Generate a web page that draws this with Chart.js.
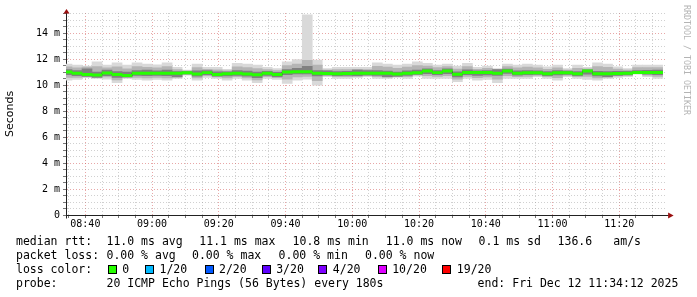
<!DOCTYPE html>
<html lang="en">
<head>
  <meta charset="UTF-8">
  <title>SmokePing median rtt</title>
  <script src="https://cdn.jsdelivr.net/npm/chart.js"></script>
  <style>
    html, body { margin: 0; padding: 0; background: #fff; }
    #wrap { position: relative; width: 697px; height: 297px; overflow: hidden; }
    #chart { position: absolute; left: 0; top: 0; }
    .t { position: absolute; font-family: "DejaVu Sans Mono", monospace; font-size: 11.5px;
         line-height: 14px; color: #000; white-space: pre; }
    .sq { position: absolute; width: 9px; height: 9px; box-sizing: border-box; border: 1px solid #000; }
    #mark { position: absolute; left: 682px; top: 5px; writing-mode: vertical-rl;
            font-family: "DejaVu Sans Mono", monospace; font-size: 8.3px; color: #b4b4b4; white-space: pre; }
  </style>
</head>
<body>
<div id="wrap">
  <canvas id="chart" width="697" height="297"></canvas>
  <div id="mark">RRDTOOL / TOBI OETIKER</div>
  <div id="legend"></div>
</div>

<script>
  // 3-minute slots, first one starts 08:33 (minutes after midnight)
  const slotStart = 513;
  const slotLen = 3;
  const axisStart = 514.2;   // 08:34:12
  const axisEnd = 694.2;     // 11:34:12

  const timeLabels = ['08:40', '09:00', '09:20', '09:40', '10:00', '10:20', '10:40', '11:00', '11:20'];
  const yLabels = ['0', '2 m', '4 m', '6 m', '8 m', '10 m', '12 m', '14 m'];

  // median rtt (ms)
  const median = [11.00, 10.91, 10.81, 10.77, 10.94, 10.81, 10.73, 10.91, 10.91, 10.91,
                  10.91, 10.92, 10.95, 10.86, 10.96, 10.81, 10.88, 10.92, 10.86, 10.79,
                  10.92, 10.81, 11.00, 11.03, 11.03, 10.92, 10.90, 10.88, 10.90, 10.92,
                  10.92, 10.92, 10.92, 10.86, 10.92, 10.95, 11.08, 10.96, 11.08, 10.83,
                  10.97, 10.97, 10.97, 10.92, 11.08, 10.91, 10.95, 10.95, 10.88, 10.95,
                  10.95, 10.88, 11.08, 10.88, 10.88, 10.90, 10.92, 10.97, 10.97, 10.97];
  // smoke: outer (lightest), middle, core (darkest)
  const smokeMax = [11.62, 11.54, 11.46, 11.79, 11.54, 11.72, 11.54, 11.72, 11.62, 11.56,
                    11.72, 11.36, 11.15, 11.62, 11.36, 11.36, 11.21, 11.67, 11.62, 11.54,
                    11.36, 11.28, 11.79, 11.97, 15.40, 11.92, 11.28, 11.36, 11.36, 11.36,
                    11.36, 11.72, 11.62, 11.54, 11.62, 11.79, 11.67, 11.54, 11.62, 11.46,
                    11.67, 11.36, 11.46, 11.28, 11.62, 11.54, 11.62, 11.54, 11.41, 11.54,
                    11.28, 11.54, 11.36, 11.72, 11.62, 11.41, 11.28, 11.54, 11.54, 11.54];
  const smokeMin = [10.38, 10.44, 10.59, 10.51, 10.46, 10.18, 10.51, 10.44, 10.38, 10.44,
                    10.38, 10.51, 10.77, 10.38, 10.59, 10.51, 10.38, 10.51, 10.38, 10.18,
                    10.51, 10.44, 10.13, 10.38, 10.45, 10.00, 10.64, 10.51, 10.51, 10.59,
                    10.64, 10.51, 10.51, 10.59, 10.51, 10.69, 10.51, 10.51, 10.51, 10.26,
                    10.51, 10.38, 10.44, 10.18, 10.51, 10.51, 10.51, 10.64, 10.51, 10.38,
                    10.64, 10.51, 10.44, 10.38, 10.51, 10.59, 10.64, 10.85, 10.64, 10.51];
  const midHi = [11.40, 11.32, 11.38, 11.42, 11.33, 11.40, 11.25, 11.43, 11.37, 11.33,
                 11.43, 11.20, 11.10, 11.35, 11.22, 11.17, 11.10, 11.40, 11.35, 11.28,
                 11.20, 11.12, 11.50, 11.62, 11.90, 11.55, 11.15, 11.20, 11.20, 11.22,
                 11.20, 11.44, 11.38, 11.30, 11.38, 11.50, 11.46, 11.34, 11.43, 11.24,
                 11.42, 11.22, 11.29, 11.22, 11.43, 11.32, 11.38, 11.33, 11.22, 11.33,
                 11.16, 11.30, 11.26, 11.42, 11.36, 11.23, 11.16, 11.34, 11.34, 11.34];
  const midLo = [10.60, 10.60, 10.62, 10.60, 10.63, 10.40, 10.58, 10.60, 10.56, 10.60,
                 10.56, 10.62, 10.82, 10.55, 10.72, 10.62, 10.55, 10.65, 10.55, 10.40,
                 10.65, 10.57, 10.45, 10.62, 10.66, 10.35, 10.72, 10.64, 10.65, 10.70,
                 10.74, 10.65, 10.65, 10.68, 10.65, 10.78, 10.72, 10.67, 10.72, 10.46,
                 10.67, 10.58, 10.62, 10.45, 10.72, 10.65, 10.66, 10.75, 10.64, 10.58,
                 10.75, 10.64, 10.66, 10.55, 10.64, 10.70, 10.74, 10.89, 10.76, 10.67];
  const coreHi = [11.20, 11.12, 11.25, 11.00, 11.15, 11.05, 11.00, 11.12, 11.15, 11.10,
                  11.15, 11.05, 11.05, 11.10, 11.12, 11.02, 11.02, 11.12, 11.08, 11.00,
                  11.06, 10.98, 11.20, 11.30, 11.45, 11.12, 11.10, 11.04, 11.06, 11.15,
                  11.12, 11.12, 11.08, 11.00, 11.10, 11.15, 11.25, 11.12, 11.25, 11.02,
                  11.18, 11.10, 11.12, 11.20, 11.24, 11.10, 11.12, 11.10, 11.04, 11.12,
                  11.08, 11.04, 11.18, 11.06, 11.04, 11.06, 11.06, 11.12, 11.14, 11.16];
  const coreLo = [10.80, 10.72, 10.66, 10.60, 10.72, 10.60, 10.62, 10.75, 10.72, 10.75,
                  10.72, 10.62, 10.86, 10.68, 10.80, 10.68, 10.70, 10.75, 10.68, 10.58,
                  10.75, 10.65, 10.80, 10.86, 10.86, 10.70, 10.78, 10.72, 10.74, 10.70,
                  10.76, 10.75, 10.62, 10.66, 10.75, 10.82, 10.88, 10.80, 10.88, 10.62,
                  10.80, 10.75, 10.78, 10.75, 10.90, 10.76, 10.80, 10.82, 10.72, 10.78,
                  10.82, 10.72, 10.85, 10.70, 10.62, 10.74, 10.78, 10.91, 10.84, 10.80];

  const lossLabels = ['0', '1/20', '2/20', '3/20', '4/20', '10/20', '19/20'];
  const lossColors = ['#26ff00', '#00b8ff', '#0059ff', '#5e00ff', '#7e00ff', '#dd00ff', '#ff0000'];

  const centers = median.map((_, i) => slotStart + slotLen * i + slotLen / 2);
  const band = (lo, hi) => centers.map((x, i) => ({ x: x, y: [lo[i], hi[i]] }));
  const bandW = 0.09;

  function hhmm(v) {
    const h = Math.floor(v / 60), m = Math.round(v % 60);
    return String(h).padStart(2, '0') + ':' + String(m).padStart(2, '0');
  }

  const gridMinor = 'rgba(150,150,150,0.45)';
  const gridMajor = 'rgba(210,80,80,0.5)';

  const barBase = { type: 'bar', barPercentage: 1, categoryPercentage: 1, grouped: false, borderWidth: 0 };

  const axisArrows = {
    id: 'axisArrows',
    afterDraw(chart) {
      const a = chart.chartArea, ctx = chart.ctx;
      const lx = Math.round(a.left) + 0.5, by = Math.round(a.bottom) + 0.5;
      ctx.save();
      ctx.strokeStyle = '#222';
      ctx.lineWidth = 1;
      ctx.beginPath();
      ctx.moveTo(a.right, by); ctx.lineTo(a.right + 2, by);
      ctx.moveTo(lx, by); ctx.lineTo(lx, by + 3);
      ctx.stroke();
      ctx.fillStyle = '#9a0f0f';
      ctx.beginPath();
      ctx.moveTo(lx - 3, a.top + 0.5); ctx.lineTo(lx + 3, a.top + 0.5); ctx.lineTo(lx, a.top - 4);
      ctx.closePath(); ctx.fill();
      ctx.beginPath();
      ctx.moveTo(a.right + 1.5, by - 3); ctx.lineTo(a.right + 1.5, by + 3); ctx.lineTo(a.right + 7, by);
      ctx.closePath(); ctx.fill();
      ctx.restore();
    }
  };

  Chart.defaults.font.family = '"DejaVu Sans Mono", monospace';
  Chart.defaults.color = '#000';

  new Chart(document.getElementById('chart'), {
    type: 'bar',
    data: {
      datasets: [
        Object.assign({}, barBase, { label: 'loss 0', order: 0, backgroundColor: lossColors[0],
          data: centers.map((x, i) => ({ x: x, y: [median[i] - bandW, median[i] + bandW] })) }),
        { type: 'line', label: 'median', order: 1, stepped: 'middle', borderColor: '#202020',
          borderWidth: 1, pointRadius: 0, data: centers.map((x, i) => ({ x: x, y: median[i] })) },
        Object.assign({}, barBase, { label: 'core', order: 2, backgroundColor: '#808080', data: band(coreLo, coreHi) }),
        Object.assign({}, barBase, { label: 'mid', order: 3, backgroundColor: '#b5b5b5', data: band(midLo, midHi) }),
        Object.assign({}, barBase, { label: 'outer', order: 4, backgroundColor: '#d9d9d9', data: band(smokeMin, smokeMax) })
      ]
    },
    options: {
      responsive: false,
      animation: false,
      events: [],
      layout: { padding: { left: 0, right: 697 - 666.6, top: 13, bottom: 62 } },
      plugins: { legend: { display: false }, tooltip: { enabled: false } },
      scales: {
        x: {
          type: 'linear',
          min: axisStart,
          max: axisEnd,
          offset: false,
          afterBuildTicks: axis => {
            const t = [];
            for (let v = Math.ceil(axisStart / 5) * 5; v <= axisEnd; v += 5) t.push({ value: v });
            axis.ticks = t;
          },
          afterFit: s => { s.height = 20; },
          ticks: {
            autoSkip: false, maxRotation: 0, padding: 0,
            font: { size: 10 }, color: '#000',
            callback: v => timeLabels.includes(hhmm(v)) ? hhmm(v) : ''
          },
          grid: {
            offset: false, tickLength: 3, tickColor: '#777',
            color: c => (c.tick && c.tick.value % 20 === 0) ? gridMajor : gridMinor
          },
          border: { color: '#222', width: 1, dash: [1, 2] }
        },
        y: {
          min: 0,
          max: 15.55,
          afterBuildTicks: axis => {
            const t = [];
            for (let v = 0; v <= 15.5; v += 0.5) t.push({ value: v });
            axis.ticks = t;
          },
          afterFit: s => { s.width = 66; },
          title: { display: true, text: 'Seconds', color: '#000',
                   font: { family: '"DejaVu Sans", sans-serif', size: 11 }, padding: { top: 4, bottom: 0 } },
          ticks: {
            autoSkip: false, padding: 3, font: { size: 10 }, color: '#000',
            callback: v => (v % 2 === 0) ? yLabels[v / 2] : ''
          },
          grid: {
            tickLength: 3, tickColor: '#777',
            color: c => (c.tick && c.tick.value % 2 === 0) ? gridMajor : gridMinor
          },
          border: { color: '#222', width: 1, dash: [1, 2] }
        }
      }
    },
    plugins: [axisArrows]
  });

  // legend text below the graph
  const legend = document.getElementById('legend');
  function put(text, left, top) {
    const d = document.createElement('div');
    d.className = 't';
    d.textContent = text;
    d.style.left = left + 'px';
    d.style.top = top + 'px';
    legend.appendChild(d);
  }
  const rows = [234, 248, 262, 275.5];
  put('median rtt:', 16, rows[0]);
  [['11.0 ms avg', 106.5], ['11.1 ms max', 199.3], ['10.8 ms min', 292.6], ['11.0 ms now', 385.8],
   ['0.1 ms sd', 478.6], ['136.6', 557.6], ['am/s', 613.3]].forEach(p => put(p[0], p[1], rows[0]));
  put('packet loss:', 16, rows[1]);
  [['0.00 % avg', 106.5], ['0.00 % max', 192], ['0.00 % min', 278.6], ['0.00 % now', 365]]
    .forEach(p => put(p[0], p[1], rows[1]));
  put('loss color:', 16, rows[2]);
  const sqX = [107.7, 145, 204.5, 261.7, 318.3, 377.7, 442.3];
  lossLabels.forEach((lab, i) => {
    const s = document.createElement('div');
    s.className = 'sq';
    s.style.left = sqX[i] + 'px';
    s.style.top = '264.5px';
    s.style.background = lossColors[i];
    legend.appendChild(s);
    put(lab, sqX[i] + 14.5, rows[2]);
  });
  put('probe:', 16, rows[3]);
  put('20 ICMP Echo Pings (56 Bytes) every 180s', 106.5, rows[3]);
  put('end: Fri Dec 12 11:34:12 2025', 477.6, rows[3]);
</script>
</body>
</html>
